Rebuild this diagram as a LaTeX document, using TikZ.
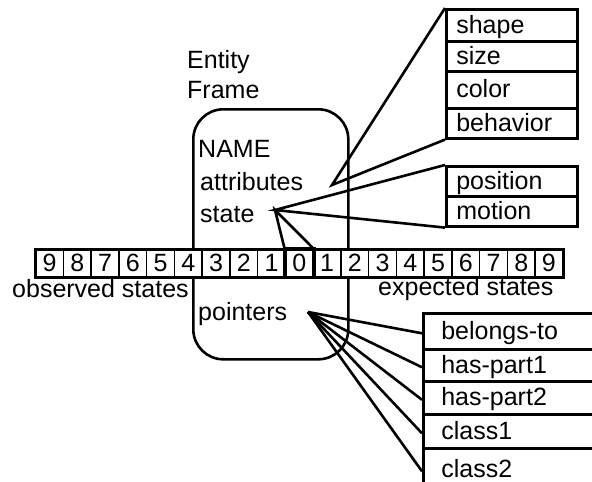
\documentclass[tikz,border=0pt]{standalone}
\usepackage{fontspec}
\setmainfont{Liberation Sans}
\usetikzlibrary{calc}
\tikzset{
  lbl/.style={anchor=base west, inner sep=0pt},
  rowbox/.style={draw, line width=2.6pt, anchor=north west, inner ysep=0pt,
    align=left, text height=18pt, text depth=2pt},
  attrbox/.style={rowbox, inner xsep=10pt, minimum width=131pt, text width=111pt},
  ptrbox/.style={rowbox, inner xsep=18pt, minimum width=180pt, text width=144pt},
  conn/.style={line width=2.6pt},
  cell/.style={draw, line width=1.5pt, fill=white, minimum width=27.74pt, minimum height=27pt, inner sep=0pt, anchor=north west},
}
\begin{document}
\begin{tikzpicture}[x=1pt,y=-1pt,font=\fontsize{25}{29}\selectfont]
\clip (0,0) rectangle (592,482);
\fill[white] (0,0) rectangle (592,482);
% frame
\node[draw, line width=2.6pt, rounded corners=30pt, minimum width=155pt, minimum height=250pt, anchor=north west] (frame) at (192,108) {};
\node[lbl] (entity) at (187,68) {Entity};
\node[lbl] (frametxt) at (187,98) {Frame};
\node[lbl] (name) at (198,157) {NAME};
\node[lbl] (attr) at (200,190) {attributes};
\node[lbl] (state) at (200,222) {state};
\node[lbl] (pointers) at (198,320) {pointers};
\coordinate (pa) at (332,185);
\coordinate (ps) at (275,210);
\coordinate (pp) at (308,312);
% strip of states
\foreach \i in {0,...,18}{
  \pgfmathtruncatemacro\lab{abs(\i-9)}
  \node[cell] (c\i) at ({35+27.74*\i},249) {\lab};
}
\draw[line width=2.6pt] (c0.north west) rectangle (c18.south east);
\draw[line width=3.8pt] (c9.north west) rectangle (c9.south east);
\node[lbl] (obs) at (12,297) {observed states};
\node[lbl] (exp) at (378,295) {expected states};
% attribute boxes
\node[attrbox, minimum height=32pt] (shape) at (445,8) {shape};
\node[attrbox, minimum height=30pt] (size) at (445,40) {size};
\node[attrbox, minimum height=37pt] (color) at (445,70) {color};
\node[attrbox, minimum height=30pt] (behavior) at (445,107) {behavior};
\node[attrbox, minimum height=30pt] (position) at (445,165) {position};
\node[attrbox, minimum height=30pt] (motion) at (445,195) {motion};
% pointer boxes
\node[ptrbox, minimum height=36pt] (belongs) at (422,312) {belongs-to};
\node[ptrbox, minimum height=32pt] (hp1) at (422,348) {has-part1};
\node[ptrbox, minimum height=33pt] (hp2) at (422,380) {has-part2};
\node[ptrbox, minimum height=34pt] (cl1) at (422,413) {class1};
\node[ptrbox, minimum height=42pt] (cl2) at (422,447) {class2};
% connectors
\draw[conn, line join=miter] (shape.north west) -- (pa) -- (behavior.south west);
\draw[conn, line join=miter] (position.north west) -- (ps) -- (motion.south west);
\draw[conn, line join=miter] (c9.north west) -- (ps) -- (c9.north east);
\foreach \b in {belongs,hp1,hp2,cl1,cl2}{
  \draw[conn] (pp) -- ($(\b.west)+(0,2)$);
}
\end{tikzpicture}
\end{document}
